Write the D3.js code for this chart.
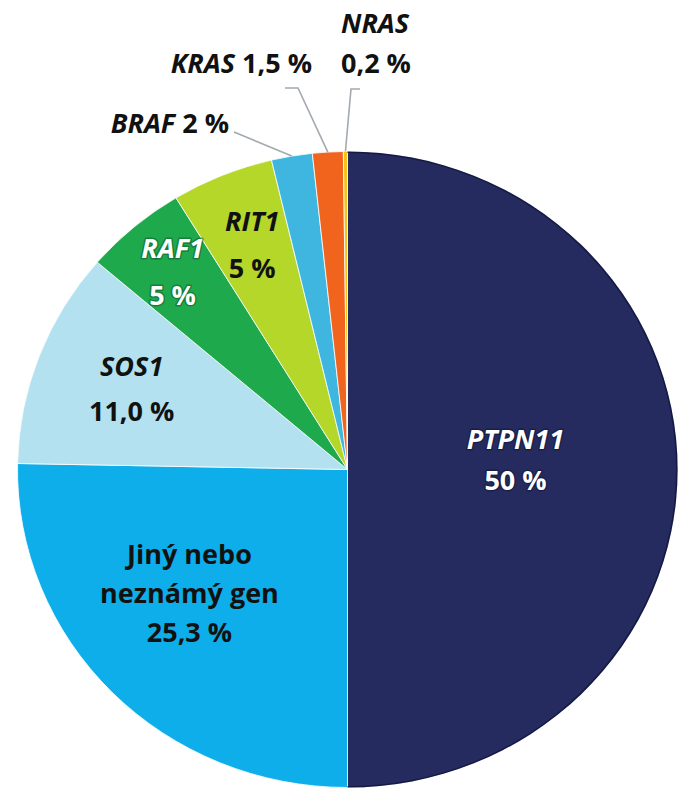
<!DOCTYPE html>
<html>
<head>
<meta charset="utf-8">
<script src="https://cdn.jsdelivr.net/npm/d3@7"></script>
<style>
  body { margin: 0; background: #fff; }
  svg text { font-family: "Open Sans", "Liberation Sans", sans-serif; font-weight: 700; }
</style>
</head>
<body>
<div id="chart"></div>
<script>
// Chart data (clockwise from 12 o'clock)
var categories = ["PTPN11", "Jiný nebo neznámý gen", "SOS1", "RAF1", "RIT1", "BRAF", "KRAS", "NRAS"];
var values = [50, 25.3, 11.0, 5, 5, 2, 1.5, 0.2];
var valueLabels = ["50 %", "25,3 %", "11,0 %", "5 %", "5 %", "2 %", "1,5 %", "0,2 %"];
var colors = ["#252b5e", "#0daeea", "#b3e1ef", "#1fa94d", "#b4d72a", "#3fb6df", "#f0641e", "#f6c419"];

var svgWidth = 688;
var svgHeight = 800;
var radius = 330;
var squash = 0.9636; // picture is a bit wider than tall
var cx = 347.5, cy = 469.5;
var fontSize = 27;

// label layout (inside slices: radius fraction + small nudge)
var inside = {
    "PTPN11": { r: 0.50, dx: 3, dy: -9, lh: 41, fill: "#ffffff", halo: "#10153a", lines: [["PTPN11", true]] },
    "Jiný nebo neznámý gen": { r: 0.62, dx: -12, dy: -13, lh: 39, fill: "#111111", lines: [["Jiný nebo", false], ["neznámý gen", false]] },
    "SOS1": { r: 0.70, dx: 0, dy: 0, lh: 45, fill: "#111111", lines: [["SOS1", true]] },
    "RAF1": { r: 0.81, dx: -2, dy: 0, lh: 47, fill: "#ffffff", halo: "#0b5a27", lines: [["RAF1", true]] },
    "RIT1": { r: 0.76, dx: 0, dy: 0, lh: 47, fill: "#111111", lines: [["RIT1", true]] }
};
// outside labels: text anchor + leader line bend points
var outside = {
    "BRAF": { x: 229, y: 133, anchor: "end", oneLine: true, path: [[234, 132]] },
    "KRAS": { x: 312, y: 73, anchor: "end", oneLine: true, path: [[298, 88], [285, 88]] },
    "NRAS": { x: 341, y: 33, anchor: "start", oneLine: false, path: [[351, 89], [360, 89]] }
};

var color = d3.scaleOrdinal().domain(categories).range(colors);

var pieData = d3.pie().sort(null).value(function (d, i) { return values[i]; })(categories);

var arc = d3.arc().innerRadius(0).outerRadius(radius);

var svg = d3.select("#chart")
    .append("svg")
    .attr("width", svgWidth)
    .attr("height", svgHeight);

var pieGroup = svg.append("g")
    .attr("transform", "translate(" + cx + "," + cy + ") scale(1," + squash + ")");

pieGroup.selectAll("path")
    .data(pieData)
    .enter()
    .append("path")
    .attr("d", arc)
    .attr("fill", function (d) { return color(d.data); })
    .attr("stroke", "#ffffff")
    .attr("stroke-width", 0.8);

// thin dark rim on the navy half like the original
pieGroup.append("path")
    .attr("d", d3.arc().innerRadius(radius - 1.5).outerRadius(radius)(pieData[0]))
    .attr("fill", "#141a45");

// map a point in pie coords to page coords
function toPage(a, r) {
    return [cx + r * Math.sin(a), cy - r * Math.cos(a) * squash];
}

// inside labels
var ch = 17; // cap height approx
pieData.forEach(function (d, i) {
    var lay = inside[d.data];
    if (!lay) return;
    var mid = (d.startAngle + d.endAngle) / 2;
    var p = toPage(mid, radius * lay.r);
    var px = p[0] + lay.dx, py = p[1] + lay.dy;
    var rows = lay.lines.concat([[valueLabels[i], false]]);
    var first = py - ((rows.length - 1) * lay.lh - ch) / 2;
    var t = svg.append("text")
        .attr("text-anchor", "middle")
        .attr("font-size", fontSize)
        .attr("fill", lay.fill);
    if (lay.halo) {
        t.attr("stroke", lay.halo).attr("stroke-width", 3)
         .attr("stroke-opacity", 0.55).attr("paint-order", "stroke")
         .attr("stroke-linejoin", "round");
    }
    rows.forEach(function (row, k) {
        t.append("tspan")
            .attr("x", px)
            .attr("y", first + k * lay.lh)
            .attr("font-style", row[1] ? "italic" : "normal")
            .text(row[0]);
    });
});

// outside labels with leader lines
pieData.forEach(function (d, i) {
    var lay = outside[d.data];
    if (!lay) return;
    var mid = (d.startAngle + d.endAngle) / 2;
    var start = toPage(mid, radius);
    svg.append("path")
        .attr("d", d3.line()([start].concat(lay.path)))
        .attr("fill", "none")
        .attr("stroke", "#a3a9b0")
        .attr("stroke-width", 1.6);

    var t = svg.append("text")
        .attr("text-anchor", lay.anchor)
        .attr("font-size", fontSize)
        .attr("fill", "#111111");
    if (lay.oneLine) {
        t.attr("x", lay.x).attr("y", lay.y);
        t.append("tspan").attr("font-style", "italic").text(d.data);
        t.append("tspan").text(" " + valueLabels[i]);
    } else {
        t.append("tspan").attr("x", lay.x).attr("y", lay.y)
            .attr("font-style", "italic").text(d.data);
        t.append("tspan").attr("x", lay.x).attr("y", lay.y + 40)
            .text(valueLabels[i]);
    }
});
</script>
</body>
</html>
